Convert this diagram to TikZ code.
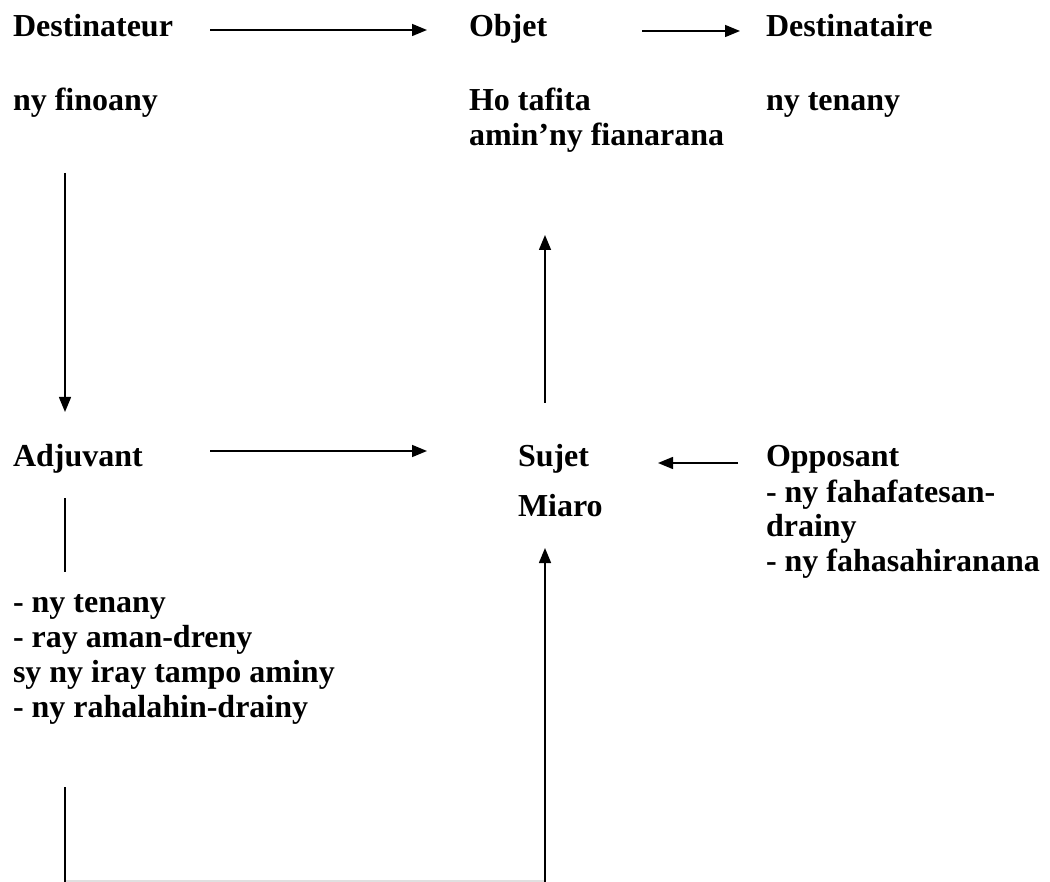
\documentclass[tikz,border=0pt]{standalone}
\usepackage{fontspec}
\setmainfont{Liberation Serif}
\usetikzlibrary{arrows.meta}
\newcommand\txtblock[1]{\begin{tabular}[t]{@{}l@{}}#1\end{tabular}}
\begin{document}
\begin{tikzpicture}[x=1pt,y=-1pt,
  lbl/.style={anchor=base west,inner sep=0pt,outer sep=0pt,
    font=\fontsize{32}{35}\selectfont\bfseries},
  link/.style={line width=1.5pt,black},
  arr/.style={link,-{Triangle[length=15pt,width=12pt]}}]
\useasboundingbox (0,0) rectangle (1050,882);

% actants
\node[lbl] (destinateur) at (13,37) {Destinateur};
\node[lbl] (objet) at (469,37) {Objet};
\node[lbl] (destinataire) at (766,37) {Destinataire};
\node[lbl] (finoany) at (13,111) {ny finoany};
\node[lbl] (tafita) at (469,111) {\txtblock{Ho tafita\\amin’ny fianarana}};
\node[lbl] (tenany) at (766,111) {ny tenany};
\node[lbl] (adjuvant) at (13,467) {Adjuvant};
\node[lbl] (sujet) at (518,467) {Sujet};
\node[lbl] (opposant) at (766,467) {Opposant};
\node[lbl] (miaro) at (518,516) {Miaro};
\node[lbl] (oppliste) at (766,502) {\txtblock{- ny fahafatesan-\\drainy\\- ny fahasahiranana}};
\node[lbl] (adjliste) at (13,612) {\txtblock{- ny tenany\\- ray aman-dreny\\sy ny iray tampo aminy\\- ny rahalahin-drainy}};

% connector ends
\coordinate (a1s) at (210,30);   \coordinate (a1e) at (427,30);
\coordinate (a2s) at (642,31);   \coordinate (a2e) at (740,31);
\coordinate (a3s) at (65,173);   \coordinate (a3e) at (65,412);
\coordinate (a4s) at (545,403);  \coordinate (a4e) at (545,235);
\coordinate (a5s) at (210,451);  \coordinate (a5e) at (427,451);
\coordinate (a6s) at (738,463);  \coordinate (a6e) at (658,463);
\coordinate (l7s) at (65,498);   \coordinate (l7e) at (65,572);
\coordinate (b1) at (65,787);    \coordinate (b2) at (65,882);
\coordinate (b3) at (545,882);   \coordinate (b4) at (545,548);
\coordinate (g1) at (65,881);    \coordinate (g2) at (545,881);

% connectors
\draw[arr] (a1s) -- (a1e);
\draw[arr] (a2s) -- (a2e);
\draw[arr] (a3s) -- (a3e);
\draw[arr] (a4s) -- (a4e);
\draw[arr] (a5s) -- (a5e);
\draw[arr] (a6s) -- (a6e);
\draw[link] (l7s) -- (l7e);
\draw[line width=1.5pt,black!12] (g1) -- (g2);
\draw[link] (b1) -- (b2);
\draw[arr] (b3) -- (b4);
\end{tikzpicture}
\end{document}
